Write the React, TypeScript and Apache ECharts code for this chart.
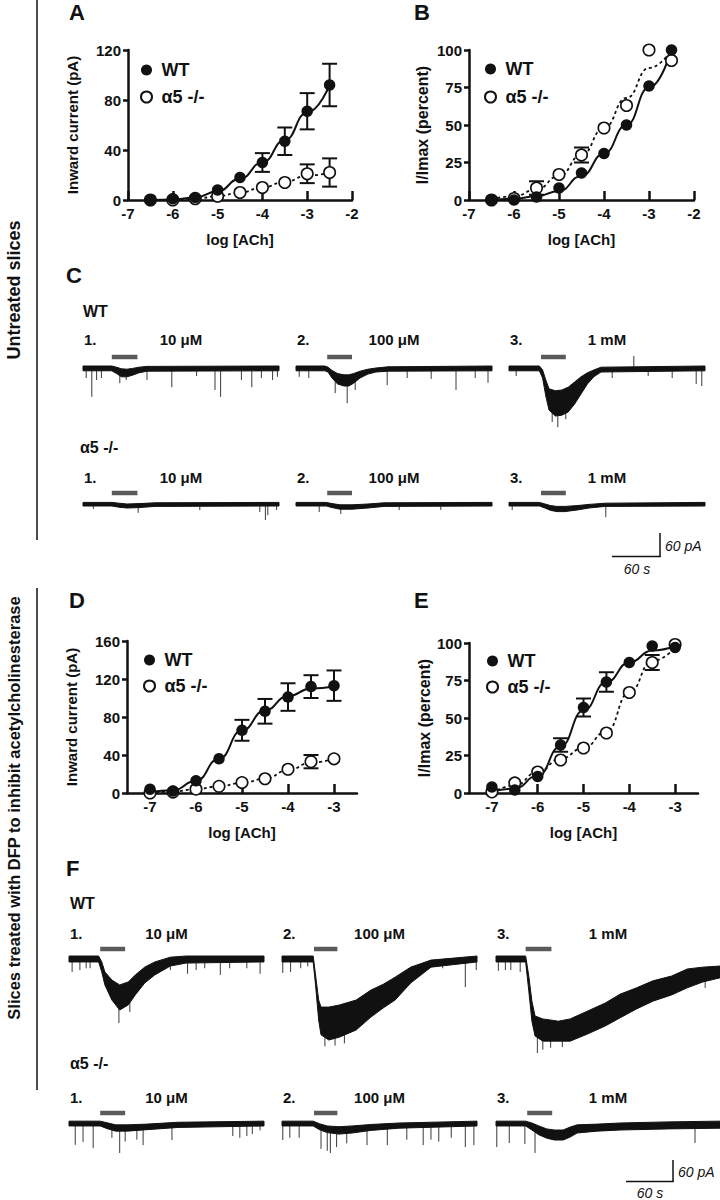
import React, { useEffect, useRef } from "react";
import * as echarts from "echarts";

const FONT = "'Liberation Sans', Arial, Helvetica, sans-serif";
const INK = "#111111";
const BAR_GREY = "#5a5a5a";

/* ---------------- dose-response data ---------------- */
const logAB = [-6.5, -6, -5.5, -5, -4.5, -4, -3.5, -3, -2.5];
const logDE = [-7, -6.5, -6, -5.5, -5, -4.5, -4, -3.5, -3];
const ticksAB = [-7, -6, -5, -4, -3, -2];
const ticksDE = [-7, -6, -5, -4, -3];

// Panel A: inward current (pA), untreated
const aWT = [0, 1, 2, 8, 18, 30, 47, 71, 92];
const aWTerr = [0, 0, 0, 1, 4, 7.5, 11, 14.5, 17];
const aKO = [0, 0, 1, 3, 6, 10, 14, 21, 22];
const aKOerr = [0, 0, 0, 1, 1, 4, 4.7, 7.5, 11.3];
const aWTfit = [0, 0.5, 2, 7, 17, 30, 48, 70, 92];
const aKOfit = [0, 0.2, 1, 3, 6, 10, 14.5, 19.5, 22];

// Panel B: I/Imax (percent), untreated
const bWT = [0, 0, 2, 8, 18, 31, 50, 76, 100];
const bWTerr = [0, 0, 0, 0, 1, 1, 1, 1, 0];
const bKO = [0, 1, 8, 17, 30, 48, 63, 100, 93];
const bKOerr = [0, 0, 4.5, 3.5, 5, 1, 1, 0, 0];
const bWTfit = [0, 0.8, 2.5, 6, 16, 31, 50, 75, 100];
const bKOfit = [0.5, 2.5, 7, 16, 30, 48, 68, 88, 100];

// Panel D: inward current (pA), DFP treated
const dWT = [4, 2, 13, 36, 66, 86, 101, 112, 113];
const dWTerr = [1, 0, 1, 5, 11, 13, 14.5, 12, 16];
const dKO = [0, 1, 4, 7, 11, 15, 25, 33, 36];
const dKOerr = [0, 0, 1, 1, 2, 1, 5, 7, 5.5];
const dWTfit = [1, 3, 13, 36, 66, 87, 102, 110, 112];
const dKOfit = [0, 1.5, 4, 7, 10.5, 15, 24, 32, 36];

// Panel E: I/Imax (percent), DFP treated
const eWT = [4, 2, 11, 32, 57, 74, 87, 98, 97];
const eWTerr = [1, 0, 1, 4.5, 6, 6.5, 4, 1, 0];
const eKO = [0.7, 6.7, 14, 22, 30, 40, 67, 87, 99];
const eKOerr = [0, 0, 1, 3, 1, 1, 1, 5, 0];
const eWTfit = [1, 3, 11.5, 31, 55, 74, 87, 95, 98];
const eKOfit = [0, 5, 14, 23, 30, 41, 67, 88, 97];

/* ---------------- current traces (time s, current pA) ---------------- */
const traceNums = ["1.", "2.", "3."];
const traceConcs = ["10 \u03bcM", "100 \u03bcM", "1 mM"];

// C, WT
const cWT1T = [0, 36, 42, 48, 55, 62, 70, 80, 245];
const cWT1Up = [5, 5, 2, -2, -3, -1, 2, 4, 5];
const cWT1Lo = [-7, -7, -14, -22, -22, -18, -12, -8, -7];
const cWT1Spk = [[4, -25], [11, -72], [17, -30], [23, -25], [46, -38], [54, -30], [80, -30], [111, -48], [142, -20], [165, -55], [172, -72], [198, -30], [211, -48], [223, -25], [237, -30], [243, -22]];
const cWT1Bar = [36, 68];
const cWT2T = [0, 36, 40, 45, 52, 60, 66, 72, 80, 90, 100, 115, 245];
const cWT2Up = [5, 5, 2, -6, -14, -17, -17, -14, -8, -3, 0, 3, 5];
const cWT2Lo = [-7, -7, -10, -25, -40, -45, -45, -38, -25, -15, -10, -8, -7];
const cWT2Spk = [[4, -22], [16, -25], [49, -63], [64, -88], [74, -55], [114, -43], [139, -25], [169, -27], [200, -55], [224, -25], [240, -37]];
const cWT2Bar = [39, 70];
const cWT3T = [0, 38, 42, 46, 50, 58, 66, 74, 82, 90, 98, 106, 115, 245];
const cWT3Up = [5, 5, -5, -30, -52, -57, -55, -48, -35, -22, -12, -5, 2, 5];
const cWT3Lo = [-7, -7, -25, -70, -105, -120, -118, -110, -90, -65, -40, -22, -10, -7];
const cWT3Spk = [[9, -20], [54, -135], [61, -148], [71, -128], [129, -25], [156, 30], [174, -20], [204, -25], [234, -40], [241, -45]];
const cWT3Bar = [40, 71];

// C, alpha5 -/-
const cKO1T = [0, 36, 45, 55, 70, 90, 245];
const cKO1Up = [4, 4, 2, 0, 1, 3, 4];
const cKO1Lo = [-5, -5, -8, -10, -9, -6, -5];
const cKO1Spk = [[13, -12], [69, -22], [146, -15], [221, -20], [228, -40], [231, -28], [242, -15]];
const cKO1Bar = [36, 68];
const cKO2T = [0, 38, 45, 55, 70, 90, 110, 245];
const cKO2Up = [4, 4, 1, -2, -2, 0, 3, 4];
const cKO2Lo = [-5, -5, -9, -13, -13, -10, -6, -5];
const cKO2Spk = [[29, -20], [56, -25], [129, -15], [181, -15]];
const cKO2Bar = [39, 70];
const cKO3T = [0, 38, 45, 52, 60, 70, 85, 100, 120, 245];
const cKO3Up = [4, 4, 0, -4, -6, -6, -4, -1, 2, 4];
const cKO3Lo = [-5, -5, -10, -16, -19, -19, -15, -10, -6, -5];
const cKO3Spk = [[4, -15], [121, -33]];
const cKO3Bar = [40, 71];

// F, WT
const fWT1T = [0, 38, 42, 46, 55, 65, 76, 85, 97, 110, 130, 150, 250];
const fWT1Up = [8, 8, -8, -35, -57, -70, -62, -43, -22, -8, 5, 8, 8];
const fWT1Lo = [-8, -8, -35, -70, -111, -138, -124, -97, -65, -43, -19, -11, -8];
const fWT1Spk = [[4, -35], [14, -30], [22, -25], [27, -25], [64, -173], [78, -143], [130, -30], [152, -40], [163, -30], [174, -25], [194, -43], [206, -25], [228, -25], [245, -40]];
const fWT1Bar = [40, 72];
const fWT2T = [0, 40, 43, 47, 50, 60, 74, 95, 114, 130, 145, 165, 191, 250];
const fWT2Up = [8, 8, -43, -111, -130, -130, -124, -111, -84, -68, -49, -22, -3, 8];
const fWT2Lo = [-8, -8, -70, -165, -205, -219, -211, -192, -157, -132, -111, -65, -22, -8];
const fWT2Spk = [[1, -38], [11, -35], [24, -25], [33, -20], [55, -236], [68, -234], [80, -228], [173, -30], [181, -35], [206, -25], [235, -76], [249, -30]];
const fWT2Bar = [41, 71];
const fWT3T = [0, 38, 42, 46, 50, 60, 80, 95, 117, 140, 159, 180, 201, 225, 245, 265, 287];
const fWT3Up = [8, 8, -46, -114, -154, -162, -168, -162, -141, -119, -95, -78, -59, -46, -27, -22, -19];
const fWT3Lo = [-8, -8, -86, -168, -208, -222, -222, -222, -203, -181, -159, -135, -114, -97, -78, -62, -51];
const fWT3Spk = [[3, -32], [12, -30], [19, -30], [31, -35], [53, -254], [60, -245], [70, -240], [85, -238], [268, -78], [275, -50]];
const fWT3Bar = [38, 71];

// F, alpha5 -/-
const fKO1T = [0, 40, 50, 60, 75, 100, 140, 250];
const fKO1Up = [5, 5, 0, -5, -5, -3, 2, 5];
const fKO1Lo = [-8, -8, -16, -22, -22, -18, -12, -8];
const fKO1Spk = [[8, -59], [18, -51], [31, -68], [55, -40], [65, -81], [72, -50], [87, -45], [95, -60], [132, -46], [210, -35], [219, -40], [228, -35], [235, -30], [245, -20]];
const fKO1Bar = [40, 72];
const fKO2T = [0, 40, 48, 58, 73, 90, 114, 150, 250];
const fKO2Up = [5, 5, -2, -8, -10, -8, -4, 0, 5];
const fKO2Lo = [-8, -8, -18, -26, -30, -27, -20, -14, -8];
const fKO2Spk = [[1, -46], [10, -40], [22, -40], [50, -70], [58, -75], [62, -81], [70, -65], [83, -55], [109, -60], [135, -60], [160, -45], [181, -60], [191, -45], [201, -50], [217, -40], [235, -65], [246, -60]];
const fKO2Bar = [41, 71];
const fKO3T = [0, 38, 46, 55, 65, 75, 86, 95, 104, 130, 159, 220, 287];
const fKO3Up = [5, 5, 0, -8, -16, -19, -19, -11, -5, -3, 0, 3, 5];
const fKO3Lo = [-8, -8, -19, -32, -41, -46, -46, -38, -27, -22, -19, -16, -14];
const fKO3Spk = [[1, -65], [17, -54], [37, -57], [50, -81], [255, -54]];
const fKO3Bar = [40, 72];

/* ---------------- layout ---------------- */
const rowCWT = { base: 368, yMin: -160, yMax: 50, k: 0.4, labelY: 339, barOff: 11 };
const rowCKO = { base: 504, yMin: -60, yMax: 50, k: 0.4, labelY: 477, barOff: 11 };
const rowFWT = { base: 959, yMin: -270, yMax: 50, k: 0.37, labelY: 933, barOff: 10 };
const rowFKO = { base: 1123, yMin: -100, yMax: 50, k: 0.37, labelY: 1097, barOff: 10 };
const colsC = [{ x: 83, w: 196, t: 245 }, { x: 296, w: 196, t: 245 }, { x: 509, w: 196, t: 245 }];
const colsF = [{ x: 69, w: 195, t: 250 }, { x: 282, w: 195, t: 250 }, { x: 496, w: 224, t: 287 }];

const boldText = (size: number) => ({ fontFamily: FONT, fontWeight: "bold", fontSize: size, color: INK });

function errRender(params: any, api: any) {
  const x = api.value(0), m = api.value(1), e = api.value(2);
  const p1 = api.coord([x, m + e]);
  const p2 = api.coord([x, m - e]);
  if (Math.abs(p2[1] - p1[1]) / 2 < 6.5) return { type: "group", children: [] };
  const cw = 7.5;
  const st = { stroke: INK, lineWidth: 2 };
  return {
    type: "group",
    children: [
      { type: "line", shape: { x1: p1[0], y1: p1[1], x2: p2[0], y2: p2[1] }, style: st },
      { type: "line", shape: { x1: p1[0] - cw, y1: p1[1], x2: p1[0] + cw, y2: p1[1] }, style: st },
      { type: "line", shape: { x1: p2[0] - cw, y1: p2[1], x2: p2[0] + cw, y2: p2[1] }, style: st },
    ],
  };
}

// value of a piecewise-linear envelope at time x (used only for drawing)
function envAt(t: number[], v: number[], x: number) {
  if (x <= t[0]) return v[0];
  for (let i = 1; i < t.length; i++) {
    if (x <= t[i]) {
      const f = (x - t[i - 1]) / (t[i] - t[i - 1]);
      return v[i - 1] + f * (v[i] - v[i - 1]);
    }
  }
  return v[v.length - 1];
}

function buildOption() {
  const grids: any[] = [];
  const xAxes: any[] = [];
  const yAxes: any[] = [];
  const series: any[] = [];
  const graphics: any[] = [];

  const txt = (text: string, x: number, y: number, size: number, o: any = {}) => {
    graphics.push({
      type: "text",
      x, y,
      rotation: o.rotation || 0,
      silent: true,
      style: {
        text,
        fill: INK,
        fontFamily: FONT,
        fontSize: size,
        fontWeight: o.weight || "bold",
        fontStyle: o.italic ? "italic" : "normal",
        textAlign: o.align || "left",
        textVerticalAlign: "middle",
        align: o.align || "left",
        verticalAlign: "middle",
      },
    });
  };
  const ln = (x1: number, y1: number, x2: number, y2: number, w: number) => {
    graphics.push({ type: "line", silent: true, shape: { x1, y1, x2, y2 }, style: { stroke: INK, lineWidth: w } });
  };

  function addDose(p: any) {
    const gi = grids.length;
    grids.push({ left: p.left, top: p.top, width: p.width, height: p.height, containLabel: false, outerBoundsMode: "none" });
    xAxes.push({
      type: "value", gridIndex: gi, min: p.xMin, max: p.xMax,
      axisLine: { show: true, onZero: false, lineStyle: { color: INK, width: 2.5 } },
      axisTick: { show: true, inside: true, length: 9, lineStyle: { color: INK, width: 2.5 }, customValues: p.ticks },
      axisLabel: { ...boldText(15), margin: 6, customValues: p.ticks },
      splitLine: { show: false },
      name: "log [ACh]", nameLocation: "middle", nameGap: 32, nameTextStyle: boldText(15),
    });
    yAxes.push({
      type: "value", gridIndex: gi, min: 0, max: p.yMax, interval: p.yInt,
      axisLine: { show: true, onZero: false, lineStyle: { color: INK, width: 2.5 } },
      axisTick: { show: true, inside: false, length: 5, lineStyle: { color: INK, width: 2.5 } },
      axisLabel: { ...boldText(15), margin: 7 },
      splitLine: { show: false },
      name: p.yName, nameLocation: "middle", nameRotate: 90, nameGap: p.yNameGap, nameTextStyle: boldText(p.yNameSize),
    });
    const zip = (a: number[]) => p.xs.map((x: number, i: number) => [x, a[i]]);
    const zipE = (a: number[], e: number[]) => p.xs.map((x: number, i: number) => [x, a[i], e[i]]);
    series.push(
      { type: "line", name: "WT fit", xAxisIndex: gi, yAxisIndex: gi, data: zip(p.wtFit), smooth: 0.5, smoothMonotone: "x", showSymbol: false, symbol: "none", lineStyle: { color: INK, width: 2 }, z: 2, silent: true },
      { type: "line", name: "\u03b15 -/- fit", xAxisIndex: gi, yAxisIndex: gi, data: zip(p.koFit), smooth: 0.5, smoothMonotone: "x", showSymbol: false, symbol: "none", lineStyle: { color: INK, width: 1.8, type: [3, 3] }, z: 2, silent: true },
      { type: "custom", name: "WT sem", xAxisIndex: gi, yAxisIndex: gi, data: zipE(p.wt, p.wtErr), renderItem: errRender, z: 3, silent: true },
      { type: "custom", name: "\u03b15 -/- sem", xAxisIndex: gi, yAxisIndex: gi, data: zipE(p.ko, p.koErr), renderItem: errRender, z: 3, silent: true },
      { type: "scatter", name: "\u03b15 -/-", xAxisIndex: gi, yAxisIndex: gi, data: zip(p.ko), symbol: "circle", symbolSize: 11.5, itemStyle: { color: "#ffffff", borderColor: INK, borderWidth: 1.6, opacity: 1 }, z: 4, silent: true },
      { type: "scatter", name: "WT", xAxisIndex: gi, yAxisIndex: gi, data: zip(p.wt), symbol: "circle", symbolSize: 11.5, itemStyle: { color: INK, opacity: 1 }, z: 5, silent: true },
    );
  }

  function addTrace(col: any, row: any, t: number[], up: number[], lo: number[], spk: number[][], bar: number[], idx: number) {
    const gi = grids.length;
    const top = row.base - row.yMax * row.k;
    const h = (row.yMax - row.yMin) * row.k;
    grids.push({ left: col.x, top, width: col.w, height: h, containLabel: false, outerBoundsMode: "none" });
    xAxes.push({ type: "value", gridIndex: gi, min: 0, max: col.t, show: false });
    yAxes.push({ type: "value", gridIndex: gi, min: row.yMin, max: row.yMax, show: false });
    series.push(
      {
        type: "custom", name: "trace", xAxisIndex: gi, yAxisIndex: gi, silent: true, z: 2,
        data: t.map((ti, i) => [ti, up[i], lo[i]]),
        encode: { x: 0, y: [1, 2] },
        renderItem: (params: any, api: any) => {
          if (params.dataIndex !== 0) return { type: "group", children: [] };
          const pts: number[][] = [];
          for (let i = 0; i < t.length; i++) pts.push(api.coord([t[i], up[i]]));
          for (let i = t.length - 1; i >= 0; i--) pts.push(api.coord([t[i], lo[i]]));
          return { type: "polygon", shape: { points: pts }, style: { fill: INK, stroke: INK, lineWidth: 1 } };
        },
      },
      {
        type: "custom", name: "events", xAxisIndex: gi, yAxisIndex: gi, silent: true, z: 1,
        data: spk,
        renderItem: (params: any, api: any) => {
          const tt = api.value(0), v = api.value(1);
          const start = v < 0 ? envAt(t, lo, tt) : envAt(t, up, tt);
          const a = api.coord([tt, start]);
          const b = api.coord([tt, v]);
          return { type: "line", shape: { x1: a[0], y1: a[1], x2: b[0], y2: b[1] }, style: { stroke: "#3a3a3a", lineWidth: 1 } };
        },
      },
      {
        type: "custom", name: "ACh application", xAxisIndex: gi, yAxisIndex: gi, silent: true, z: 3,
        data: [[bar[0], 0, bar[1]]],
        renderItem: (params: any, api: any) => {
          const a = api.coord([api.value(0), 0]);
          const b = api.coord([api.value(2), 0]);
          return { type: "rect", shape: { x: a[0], y: a[1] - row.barOff - 2.25, width: b[0] - a[0], height: 4.5 }, style: { fill: BAR_GREY } };
        },
      },
    );
    txt(traceNums[idx], col.x + 1, row.labelY, 15);
    txt(traceConcs[idx], col.x + col.w / 2, row.labelY, 15, { align: "center" });
  }

  // Dose-response panels
  addDose({ left: 128, top: 50, width: 224, height: 150, xMin: -7, xMax: -2, ticks: ticksAB, yMax: 120, yInt: 40, yName: "Inward current (pA)", yNameGap: 48, yNameSize: 15, xs: logAB, wt: aWT, wtErr: aWTerr, ko: aKO, koErr: aKOerr, wtFit: aWTfit, koFit: aKOfit });
  addDose({ left: 469, top: 50, width: 225, height: 150, xMin: -7, xMax: -2, ticks: ticksAB, yMax: 100, yInt: 25, yName: "I/Imax (percent)", yNameGap: 39, yNameSize: 16, xs: logAB, wt: bWT, wtErr: bWTerr, ko: bKO, koErr: bKOerr, wtFit: bWTfit, koFit: bKOfit });
  addDose({ left: 127, top: 641, width: 230, height: 152, xMin: -7.5, xMax: -2.5, ticks: ticksDE, yMax: 160, yInt: 40, yName: "Inward current (pA)", yNameGap: 48, yNameSize: 15, xs: logDE, wt: dWT, wtErr: dWTerr, ko: dKO, koErr: dKOerr, wtFit: dWTfit, koFit: dKOfit });
  addDose({ left: 469, top: 643, width: 229, height: 150, xMin: -7.5, xMax: -2.5, ticks: ticksDE, yMax: 100, yInt: 25, yName: "I/Imax (percent)", yNameGap: 37, yNameSize: 16, xs: logDE, wt: eWT, wtErr: eWTerr, ko: eKO, koErr: eKOerr, wtFit: eWTfit, koFit: eKOfit });

  // Traces C
  addTrace(colsC[0], rowCWT, cWT1T, cWT1Up, cWT1Lo, cWT1Spk, cWT1Bar, 0);
  addTrace(colsC[1], rowCWT, cWT2T, cWT2Up, cWT2Lo, cWT2Spk, cWT2Bar, 1);
  addTrace(colsC[2], rowCWT, cWT3T, cWT3Up, cWT3Lo, cWT3Spk, cWT3Bar, 2);
  addTrace(colsC[0], rowCKO, cKO1T, cKO1Up, cKO1Lo, cKO1Spk, cKO1Bar, 0);
  addTrace(colsC[1], rowCKO, cKO2T, cKO2Up, cKO2Lo, cKO2Spk, cKO2Bar, 1);
  addTrace(colsC[2], rowCKO, cKO3T, cKO3Up, cKO3Lo, cKO3Spk, cKO3Bar, 2);
  // Traces F
  addTrace(colsF[0], rowFWT, fWT1T, fWT1Up, fWT1Lo, fWT1Spk, fWT1Bar, 0);
  addTrace(colsF[1], rowFWT, fWT2T, fWT2Up, fWT2Lo, fWT2Spk, fWT2Bar, 1);
  addTrace(colsF[2], rowFWT, fWT3T, fWT3Up, fWT3Lo, fWT3Spk, fWT3Bar, 2);
  addTrace(colsF[0], rowFKO, fKO1T, fKO1Up, fKO1Lo, fKO1Spk, fKO1Bar, 0);
  addTrace(colsF[1], rowFKO, fKO2T, fKO2Up, fKO2Lo, fKO2Spk, fKO2Bar, 1);
  addTrace(colsF[2], rowFKO, fKO3T, fKO3Up, fKO3Lo, fKO3Spk, fKO3Bar, 2);

  // Panel letters
  txt("A", 69, 12, 22);
  txt("B", 414, 12, 22);
  txt("C", 66, 275, 22);
  txt("D", 69, 600, 22);
  txt("E", 414, 600, 22);
  txt("F", 66, 868, 22);

  // Row headers
  txt("WT", 83, 311, 16);
  txt("\u03b15 -/-", 80, 447, 16);
  txt("WT", 70, 903, 16);
  txt("\u03b15 -/-", 70, 1063, 16);

  // Section labels and dividers
  ln(37, 0, 37, 540, 1.5);
  ln(37, 588, 37, 1090, 1.5);
  txt("Untreated slices", 14, 290, 18, { rotation: Math.PI / 2, align: "center" });
  txt("Slices treated with DFP to inhibit acetylcholinesterase", 14, 808, 16.5, { rotation: Math.PI / 2, align: "center" });

  // Scale bars
  ln(660, 533, 660, 557, 1.5);
  ln(612, 556.5, 660.7, 556.5, 1.5);
  txt("60 pA", 665, 546, 14, { weight: "normal", italic: true });
  txt("60 s", 637, 569, 14, { weight: "normal", italic: true, align: "center" });
  ln(673, 1160, 673, 1182, 1.5);
  ln(626, 1181.5, 673.7, 1181.5, 1.5);
  txt("60 pA", 678, 1172, 14, { weight: "normal", italic: true });
  txt("60 s", 650, 1193, 14, { weight: "normal", italic: true, align: "center" });

  const legendBase = (left: number, top: number, gap: number) => ({
    data: ["WT", "\u03b15 -/-"],
    left, top, orient: "vertical", padding: 0,
    itemWidth: 20, itemHeight: 11, itemGap: gap, icon: "circle",
    selectedMode: false,
    textStyle: { ...boldText(18), lineHeight: 18 },
  });

  return {
    animation: false,
    backgroundColor: "#ffffff",
    textStyle: { fontFamily: FONT },
    legend: [
      legendBase(140, 61, 9),
      legendBase(484, 60, 10),
      legendBase(143, 651, 8),
      legendBase(486, 652, 8),
    ],
    grid: grids,
    xAxis: xAxes,
    yAxis: yAxes,
    series,
    graphic: { elements: graphics },
  };
}

export default function App() {
  const ref = useRef<HTMLDivElement>(null);
  useEffect(() => {
    const chart = echarts.init(ref.current as HTMLDivElement, null, { renderer: "svg" });
    chart.setOption(buildOption() as any);
    return () => chart.dispose();
  }, []);
  return (
    <div
      ref={ref}
      style={{ position: "absolute", left: 0, top: 0, width: 720, height: 1200, background: "#fff" }}
    />
  );
}
